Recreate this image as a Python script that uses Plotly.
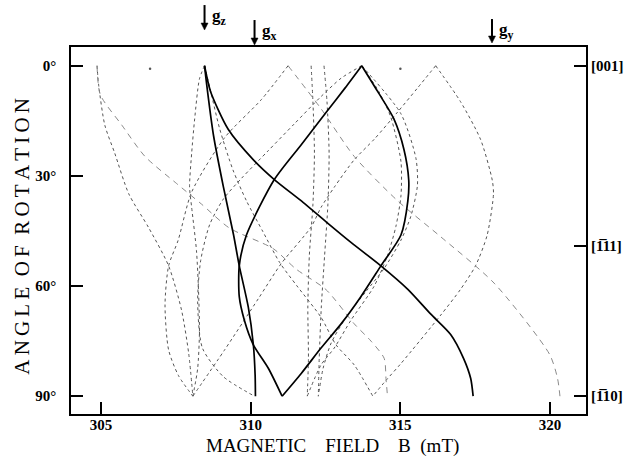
import plotly.graph_objects as go

# ---------------- data (angle in degrees, field B in mT) ----------------
# solid curves
A_ang = [0, 5.0, 19.0, 33.0, 46.1, 54.5, 65.7, 76.0, 84.4, 90]
A_B = [308.46, 308.53, 308.76, 309.09, 309.43, 309.62, 309.92, 310.09, 310.15, 310.16]

B_ang = [0, 7.0, 17.3, 25.7, 31.0, 37.2, 42.5, 48.1, 54.5, 60.9, 67.6, 73.2, 79.7, 85.2, 90]
B_B = [308.46, 308.66, 309.25, 310.10, 310.79, 311.75, 312.52, 313.35, 314.35, 315.25,
       316.01, 316.68, 317.11, 317.35, 317.43]

C_ang = [0, 6.1, 12.6, 21.5, 31.0, 46.1, 54.5, 62.9, 69.3, 76.0, 82.4, 90]
C_B = [313.71, 313.15, 312.53, 311.69, 310.79, 309.86, 309.62, 309.62, 309.79, 310.09, 310.59, 311.05]

D_ang = [0, 7.0, 14.4, 22.8, 31.2, 36.8, 46.1, 54.5, 62.9, 70.3, 76.9, 83.8, 90]
D_B = [313.71, 314.24, 314.78, 315.12, 315.28, 315.25, 315.02, 314.35, 313.68, 313.02, 312.35, 311.69, 311.05]

# dotted curves
E_ang = [0, 5.0, 16.2, 23.8, 34.9, 44.2, 54.5, 66.5, 78.3, 90]
E_B = [304.87, 304.92, 305.13, 305.46, 305.93, 306.60, 307.26, 307.69, 307.93, 308.07]

F_ang = [0, 9.2, 19.6, 34.4, 47.5, 54.5, 65.1, 77.4, 84.4, 90]
F_B = [311.25, 310.36, 309.13, 308.03, 307.58, 307.26, 307.14, 307.26, 307.59, 308.07]

GH_ang = [0, 6.1, 12.6, 20.0, 25.6, 33.0, 38.6, 43.9, 53.9, 63.4, 77.4, 90]
GH_B = [316.18, 315.57, 314.91, 314.13, 313.46, 312.80, 312.35, 312.02, 311.02, 310.26, 309.13, 308.07]

G_ang = [0, 9.8, 20.1, 31.2, 34.9, 46.1, 54.5, 60.9, 67.9, 81.1, 85.7, 90]
G_B = [316.18, 317.01, 317.68, 318.07, 318.11, 317.90, 317.51, 317.01, 316.35, 315.02, 314.52, 314.08]

D1_ang = [0, 3.6, 14.5, 23.8, 33.0, 38.6, 50.3, 61.5, 72.7, 82.5, 90]
D1_B = [308.46, 308.29, 308.13, 308.03, 307.96, 308.03, 308.19, 308.26, 308.29, 308.23, 308.07]

D2_ang = [0, 6.1, 17.3, 28.4, 36.8, 45.2, 53.6, 60.0, 68.5, 76.0, 81.5, 90]
D2_B = [308.46, 308.64, 308.97, 309.41, 309.86, 310.41, 310.97, 311.55, 312.35, 312.85, 313.46, 314.08]

C2_ang = [0, 3.4, 8.4, 15.9, 23.2, 30.7, 36.3, 43.3, 53.1, 64.3, 76.9, 84.7, 90]
C2_B = [313.71, 313.02, 312.35, 311.45, 310.58, 309.69, 309.09, 308.63, 308.33, 308.23,
        308.39, 309.09, 310.13]

V1_ang = [0, 9.8, 23.8, 37.7, 51.7, 65.7, 79.7, 90]
V1_B = [312.02, 312.08, 312.13, 312.08, 311.96, 311.91, 311.93, 311.89]

V2_ang = [0, 9.8, 23.8, 37.7, 51.7, 65.7, 79.7, 90]
V2_B = [312.45, 312.55, 312.62, 312.58, 312.47, 312.36, 312.29, 312.26]

K1_ang = [0, 7.0, 14.0, 26.1, 35.4, 43.8, 51.7, 60.1, 69.3, 76.9, 81.5, 90]
K1_B = [313.71, 314.28, 314.68, 315.02, 315.02, 314.85, 314.57, 314.12, 313.35, 312.79, 312.35, 311.89]

K2_ang = [0, 13.1, 25.2, 32.6, 41.0, 47.5, 55.3, 61.5, 68.5, 75.5, 82.4, 90]
K2_B = [313.71, 315.02, 315.52, 315.57, 315.35, 315.02, 314.45, 313.85, 313.19, 312.69, 312.42, 312.26]

# long-dash curves
FR_ang = [0, 11.7, 24.7, 36.8, 46.6, 59.2, 78.7, 85.2, 90]
FR_B = [311.25, 312.35, 313.46, 314.91, 316.35, 318.13, 319.99, 320.25, 320.33]

E2_ang = [0, 7.9, 16.2, 24.7, 32.1, 37.7, 44.2, 49.8, 55.4, 61.0, 70.3, 75.0, 79.7, 85.2, 90]
E2_B = [304.87, 304.98, 305.70, 306.47, 307.53, 308.36, 309.29, 310.75, 311.52, 312.52,
        313.46, 314.02, 314.46, 314.52, 314.57]

# isolated dots at 0 degrees
dot_B = [306.64, 315.00]
dot_ang = [0.8, 0.8]

# axis / label data
x_ticks = [305, 310, 315, 320]
y_ticks = [0, 30, 60, 90]
y_ticktext = ["0°", "30°", "60°", "90°"]
dir_ticks = [0, 49, 90]
dir_text = ["[001]", "[1\u030511]", "[1\u030510]"]
g_names = ["z", "x", "y"]
g_fields = [308.46, 310.13, 318.06]

SERIF = "Liberation Serif"
Y_RANGE = [94.85, -5.1]
X_RANGE = [304.0, 321.2]
L, R, T, B = 71, 43, 47, 41.5
W, H = 629, 456
PH = H - T - B
PW = W - L - R


def py2paper(py):
    return (H - B - py) / PH


fig = go.Figure()


def add(ang, b, color, width, dash):
    fig.add_trace(go.Scatter(x=b, y=ang, mode="lines",
                             line=dict(color=color, width=width, dash=dash,
                                       shape="spline", smoothing=0.7),
                             hoverinfo="skip", showlegend=False))


for ang, b in [(E_ang, E_B), (F_ang, F_B), (GH_ang, GH_B), (G_ang, G_B), (D1_ang, D1_B),
               (D2_ang, D2_B), (C2_ang, C2_B), (V1_ang, V1_B), (V2_ang, V2_B),
               (K1_ang, K1_B), (K2_ang, K2_B)]:
    add(ang, b, "#555555", 1.0, "dot")

for ang, b in [(FR_ang, FR_B), (E2_ang, E2_B)]:
    add(ang, b, "#8a8a8a", 1.0, "6px,5px")

for ang, b in [(A_ang, A_B), (B_ang, B_B), (C_ang, C_B), (D_ang, D_B)]:
    add(ang, b, "black", 1.7, "solid")

fig.add_trace(go.Scatter(x=dot_B, y=dot_ang, mode="markers",
                         marker=dict(color="#555555", size=2.5),
                         hoverinfo="skip", showlegend=False))

# invisible trace for the right-hand direction axis
fig.add_trace(go.Scatter(x=[305], y=[0], yaxis="y2", mode="markers",
                         marker=dict(opacity=0), hoverinfo="skip", showlegend=False))

# g-value arrows: shafts and heads as shapes
tails = [5, 20, 19]
tips = [30, 45, 43]
labels_y = [17, 32, 31]
half_w = 3.5 * (X_RANGE[1] - X_RANGE[0]) / PW
for gx, t0, t1 in zip(g_fields, tails, tips):
    fig.add_shape(type="line", xref="x", yref="paper", x0=gx, x1=gx,
                  y0=py2paper(t0), y1=py2paper(t1 - 5), line=dict(color="black", width=2))
    fig.add_shape(type="path", xref="x", yref="paper",
                  path="M %f,%f L %f,%f L %f,%f Z" % (gx - half_w, py2paper(t1 - 7),
                                                       gx + half_w, py2paper(t1 - 7),
                                                       gx, py2paper(t1)),
                  fillcolor="black", line=dict(color="black", width=0.5))
for name, gx, ly in zip(g_names, g_fields, labels_y):
    fig.add_annotation(x=gx, y=py2paper(ly), xref="x", yref="paper",
                       text="<b>g</b><sub><b>%s</b></sub>" % name, showarrow=False,
                       xanchor="left", yanchor="middle", xshift=5,
                       font=dict(family=SERIF, size=17, color="black"))

tickfont = dict(family=SERIF, size=15, color="black", weight="bold")

fig.update_layout(
    width=W, height=H,
    margin=dict(l=L, r=R, t=T, b=B, autoexpand=False),
    paper_bgcolor="white", plot_bgcolor="white",
    showlegend=False,
    xaxis=dict(range=X_RANGE, tickvals=x_ticks, ticks="inside", ticklen=12,
               tickwidth=1.5, tickcolor="black", showline=True, linecolor="black",
               linewidth=1.5, mirror=True, showgrid=False, zeroline=False,
               tickfont=tickfont, ticklabelstandoff=-4),
    yaxis=dict(range=Y_RANGE, tickvals=y_ticks, ticktext=y_ticktext, ticks="inside",
               ticklen=12, tickwidth=1.5, tickcolor="black", showline=True,
               linecolor="black", linewidth=1.5, mirror=True, showgrid=False,
               zeroline=False, tickfont=tickfont, ticklabelstandoff=10),
    yaxis2=dict(overlaying="y", side="right", anchor="x", range=Y_RANGE, tickvals=dir_ticks,
                ticktext=dir_text, ticks="inside", ticklen=12, tickwidth=1.5,
                tickcolor="black", showline=False, showgrid=False, zeroline=False,
                tickfont=dict(family=SERIF, size=15, color="black", weight="bold"),
                ticklabelstandoff=4),
)

# axis titles
fig.add_annotation(text="MAGNETIC\u2002\u2002FIELD\u2002\u2002B\u2002(mT)", xref="paper",
                   yref="paper", x=0.507, y=py2paper(447), showarrow=False,
                   yanchor="middle", font=dict(family=SERIF, size=19, color="black"))
fig.add_annotation(text="\u2009".join("ANGLE") + "\u2002" + "\u2009".join("OF") + "\u2002"
                   + "\u2009".join("ROTATION"),
                   xref="paper", yref="paper", x=(22 - L) / PW, y=py2paper(237),
                   showarrow=False, textangle=-90, xanchor="center", yanchor="middle",
                   font=dict(family=SERIF, size=21, color="black"))

fig.write_html("out.html", config={"displayModeBar": False},
               post_script="document.body.style.margin='0px';"
                           "document.body.style.overflow='hidden';")
